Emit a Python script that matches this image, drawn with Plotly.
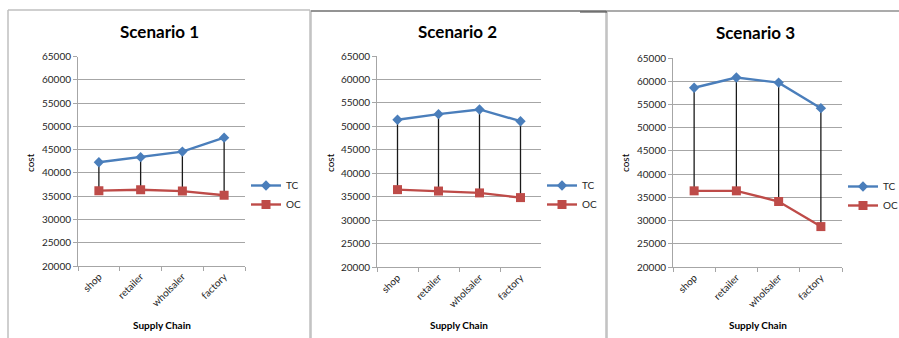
import plotly.graph_objects as go

# Supply chain stages and cost per scenario
stages = ["shop", "retailer", "wholsaler", "factory"]
scenario_titles = ["Scenario 1", "Scenario 2", "Scenario 3"]

tc_s1 = [42300, 43400, 44600, 47600]
oc_s1 = [36200, 36400, 36100, 35200]
tc_s2 = [51400, 52600, 53600, 51100]
oc_s2 = [36500, 36200, 35800, 34800]
tc_s3 = [58600, 60800, 59700, 54200]
oc_s3 = [36400, 36400, 34100, 28700]

y_ticks = list(range(20000, 65001, 5000))

W, H = 899, 338
TC_COLOR = "#4A7EBB"
OC_COLOR = "#BE4B48"
GRID = "#A6A6A6"
FRAME = "#BFBFBF"
FONT = "Lato, 'Open Sans', sans-serif"

# pixel layout of each panel: plot box, chart frame, title, legend
panels = [
    dict(plot=(78, 245, 56.7, 266), frame=(8, 310, 10), title_x=159, title_y=31,
         cost_x=30, leg=(246, 171)),
    dict(plot=(377, 541, 56, 267), frame=(311, 606, 11), title_x=457, title_y=31,
         cost_x=330, leg=(542, 171)),
    dict(plot=(673, 842, 58, 267), frame=(607, None, 12), title_x=755, title_y=33,
         cost_x=625, leg=(843, 172)),
]
series = [(tc_s1, oc_s1), (tc_s2, oc_s2), (tc_s3, oc_s3)]

fig = go.Figure()
layout = dict(
    width=W, height=H, autosize=False,
    margin=dict(l=0, r=0, t=0, b=0, autoexpand=False),
    paper_bgcolor="white", plot_bgcolor="white",
    font=dict(family=FONT, size=10, color="#262626"),
    shapes=[], annotations=[],
)


def px_x(x):
    return x / W


def px_y(y):
    return 1 - y / H


def vline(x, y_top, color=FRAME, width=1.5):
    return dict(type="line", xref="paper", yref="paper", x0=px_x(x), x1=px_x(x),
                y0=0, y1=px_y(y_top), line=dict(color=color, width=width))


def hline(xa, xb, y, color=FRAME, width=1.5):
    return dict(type="line", xref="paper", yref="paper", x0=px_x(xa), x1=px_x(xb),
                y0=px_y(y), y1=px_y(y), line=dict(color=color, width=width))


for i, (panel, (tc, oc)) in enumerate(zip(panels, series)):
    n = "" if i == 0 else str(i + 1)
    xa, ya = "x" + n, "y" + n
    leg = "legend" + n
    x0, x1, y0, y1 = panel["plot"]

    # high-low connectors between the two series
    hx, hy = [], []
    for s, t, o in zip(stages, tc, oc):
        hx += [s, s, None]
        hy += [t, o, None]
    fig.add_trace(go.Scatter(x=hx, y=hy, mode="lines", xaxis=xa, yaxis=ya,
                             line=dict(color="#1a1a1a", width=1.3),
                             showlegend=False, hoverinfo="skip"))
    fig.add_trace(go.Scatter(x=stages, y=tc, name="TC", mode="lines+markers",
                             xaxis=xa, yaxis=ya, legend=leg,
                             line=dict(color=TC_COLOR, width=2.4),
                             marker=dict(symbol="diamond", size=8, color=TC_COLOR)))
    fig.add_trace(go.Scatter(x=stages, y=oc, name="OC", mode="lines+markers",
                             xaxis=xa, yaxis=ya, legend=leg,
                             line=dict(color=OC_COLOR, width=2.4),
                             marker=dict(symbol="square", size=9, color=OC_COLOR)))

    layout["xaxis" + n] = dict(
        domain=[px_x(x0), px_x(x1)], anchor=ya, type="category",
        categoryorder="array", categoryarray=stages, range=[-0.5, 3.5],
        showline=True, linecolor=GRID, linewidth=1, showgrid=False,
        ticks="outside", tickson="boundaries", ticklen=4, tickcolor=GRID,
        tickangle=-45, tickfont=dict(size=10, color="#262626"), fixedrange=True,
    )
    layout["yaxis" + n] = dict(
        domain=[px_y(y1), px_y(y0)], anchor=xa, range=[20000, 65000],
        tickvals=y_ticks, ticktext=[str(v) for v in y_ticks],
        showline=True, linecolor=GRID, linewidth=1,
        showgrid=True, gridcolor=GRID, gridwidth=1,
        ticks="outside", ticklen=4, tickcolor=GRID,
        tickfont=dict(size=10, color="#262626"), fixedrange=True, zeroline=False,
    )
    lx, ly = panel["leg"]
    layout[leg] = dict(
        x=px_x(lx), y=px_y(ly), xanchor="left", yanchor="top",
        bgcolor="rgba(0,0,0,0)", font=dict(size=10, color="#262626"),
        itemwidth=30, tracegroupgap=0,
    )

    # chart frame (open at the bottom where the charts run off the sheet)
    fx0, fx1, fy0 = panel["frame"]
    layout["shapes"].append(vline(fx0, fy0))
    if fx1 is not None:
        layout["shapes"].append(vline(fx1, fy0))
        layout["shapes"].append(hline(fx0, fx1, fy0))

    # titles
    layout["annotations"] += [
        dict(text="<b>%s</b>" % scenario_titles[i], xref="paper", yref="paper",
             x=px_x(panel["title_x"]), y=px_y(panel["title_y"]), showarrow=False,
             xanchor="center", yanchor="middle", font=dict(size=17, color="black")),
        dict(text="cost", xref="paper", yref="paper", textangle=-90,
             x=px_x(panel["cost_x"]), y=px_y(163), showarrow=False,
             xanchor="center", yanchor="middle", font=dict(size=10, color="black")),
        dict(text="<b>Supply Chain</b>", xref="paper", yref="paper",
             x=px_x((x0 + x1) / 2), y=px_y(325), showarrow=False,
             xanchor="center", yanchor="middle", font=dict(size=10, color="black")),
    ]

# darker top edges of the second and third frames
layout["shapes"] += [
    hline(311, W, 11, color="#595959", width=1.2),
    hline(580, 607, 12, color="#595959", width=1.2),
]

fig.update_layout(**layout)
fig.write_html("out.html")
